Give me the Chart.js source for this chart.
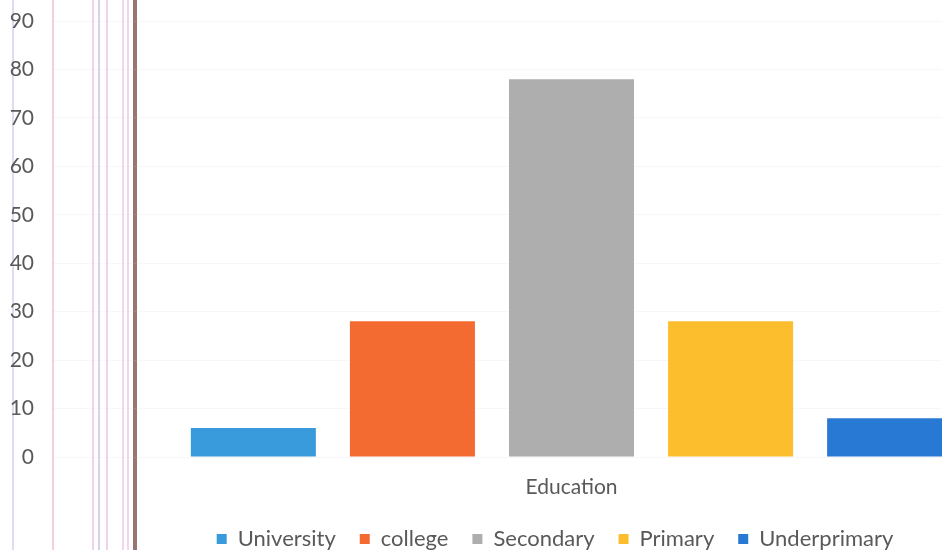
<!DOCTYPE html>
<html>
<head>
<meta charset="utf-8">
<script src="https://cdn.jsdelivr.net/npm/chart.js@4/dist/chart.umd.min.js"></script>
<style>
  html, body { margin: 0; padding: 0; background: #ffffff; overflow: hidden; width: 942px; height: 550px; }
  canvas { display: block; }
</style>
</head>
<body>
<canvas id="c" width="1110" height="560"></canvas>
<script>
const categories = ["Education"];
const seriesNames = ["University", "college", "Secondary", "Primary", "Underprimary"];
const seriesValues = [6, 28, 78, 28, 8];
const seriesColors = ["#3a9bdc", "#f46b32", "#aeaeae", "#fcbe2c", "#2879d3"];
const yTicks = [0, 10, 20, 30, 40, 50, 60, 70, 80, 90];

// decorative ruled-paper lines seen in the scanned reference (x position, colour, width)
const paperLines = [
  [13, "rgba(180,170,230,0.55)", 1.5],
  [53, "rgba(225,150,180,0.6)", 1.5],
  [93, "rgba(220,150,200,0.55)", 1.5],
  [99, "rgba(170,150,220,0.6)", 1.5],
  [107, "rgba(220,150,200,0.55)", 1.5],
  [123, "rgba(220,150,200,0.5)", 1.5],
  [128, "rgba(220,150,200,0.5)", 1.5],
  [135, "rgba(150,110,105,0.95)", 4]
];

const paperPlugin = {
  id: 'paper',
  beforeDraw(chart) {
    const ctx = chart.ctx;
    ctx.save();
    paperLines.forEach(([x, c, w]) => {
      ctx.strokeStyle = c;
      ctx.lineWidth = w;
      ctx.beginPath();
      ctx.moveTo(x, 0);
      ctx.lineTo(x, chart.height);
      ctx.stroke();
    });
    ctx.restore();
  }
};

const datasets = seriesNames.map((name, i) => ({
  label: name,
  data: [seriesValues[i]],
  backgroundColor: seriesColors[i],
  borderWidth: 0,
  barPercentage: 0.786,
  categoryPercentage: 0.767
}));

const noLabelClip = () => undefined;

new Chart(document.getElementById('c'), {
  type: 'bar',
  data: { labels: categories, datasets },
  plugins: [paperPlugin],
  options: {
    responsive: false,
    animation: false,
    devicePixelRatio: 1,
    layout: { padding: { left: 20, right: 20, top: 21, bottom: 0 } },
    plugins: {
      tooltip: { enabled: false },
      legend: {
        position: 'bottom',
        labels: {
          boxWidth: 10,
          boxHeight: 10,
          padding: 24,
          color: '#595959',
          font: { family: 'Lato', size: 22 }
        }
      }
    },
    scales: {
      x: {
        grid: { display: false, drawTicks: false },
        border: { display: false },
        ticks: { color: '#595959', padding: 18, font: { family: 'Lato', size: 21 } },
        afterFit(axis) { axis.height = 47; axis._computeLabelArea = noLabelClip; }
      },
      y: {
        min: 0,
        max: 90,
        afterBuildTicks(axis) { axis.ticks = yTicks.map(v => ({ value: v })); },
        grid: { color: 'rgba(200,200,220,0.15)', drawTicks: false },
        border: { display: false },
        ticks: { color: '#595959', padding: 19, font: { family: 'Lato', size: 21 } },
        afterFit(axis) {
          axis.width = 33; axis.paddingTop = 0; axis.paddingBottom = 0;
          axis._computeLabelArea = noLabelClip;
        }
      }
    }
  }
});
</script>
</body>
</html>
